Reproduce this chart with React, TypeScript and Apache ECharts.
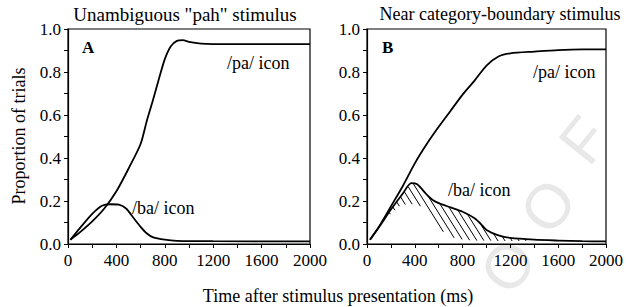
import React, { useEffect, useRef } from "react";
import * as echarts from "echarts";

// Panel A: unambiguous "pah" stimulus
const A_PA_X = [20, 100, 200, 300, 400, 500, 600, 650, 700, 750, 800, 850, 900, 950, 1000, 1100, 1200, 1600, 2000];
const A_PA_Y = [0.02, 0.055, 0.105, 0.165, 0.245, 0.35, 0.465, 0.57, 0.665, 0.765, 0.86, 0.92, 0.945, 0.948, 0.94, 0.932, 0.93, 0.93, 0.93];
const A_BA_X = [20, 100, 200, 280, 350, 420, 480, 550, 600, 650, 700, 800, 900, 1200, 2000];
const A_BA_Y = [0.02, 0.075, 0.14, 0.178, 0.185, 0.183, 0.165, 0.115, 0.08, 0.05, 0.032, 0.02, 0.015, 0.013, 0.012];

// Panel B: near category-boundary stimulus
const B_PA_X = [25, 100, 200, 300, 400, 500, 600, 700, 800, 900, 1000, 1100, 1200, 1400, 1600, 1800, 2000];
const B_PA_Y = [0.02, 0.08, 0.175, 0.27, 0.375, 0.465, 0.545, 0.62, 0.695, 0.76, 0.83, 0.872, 0.887, 0.895, 0.902, 0.905, 0.905];
const B_BA_X = [25, 100, 200, 300, 370, 420, 500, 550, 600, 700, 800, 900, 950, 1000, 1100, 1200, 1400, 1600, 1800, 2000];
const B_BA_Y = [0.02, 0.078, 0.16, 0.235, 0.283, 0.278, 0.23, 0.205, 0.19, 0.17, 0.15, 0.12, 0.095, 0.065, 0.04, 0.028, 0.02, 0.016, 0.013, 0.012];

const X_TICKS = [0, 400, 800, 1200, 1600, 2000];
const Y_TICKS = [0, 0.2, 0.4, 0.6, 0.8, 1.0];

const TITLES = ['Unambiguous "pah" stimulus', "Near category-boundary stimulus"];
const PANEL_LETTERS = ["A", "B"];
const CURVE_LABELS = ["/pa/ icon", "/ba/ icon"];
const Y_NAME = "Proportion of trials";
const X_NAME = "Time after stimulus presentation (ms)";
const WATERMARK = ["O", "O", "F"];

const FONT = "Liberation Serif";

function zip(xs: number[], ys: number[]) {
  return xs.map((x, i) => [x, ys[i]]);
}

function interp(xs: number[], ys: number[], x: number) {
  if (x <= xs[0]) return ys[0];
  for (let i = 1; i < xs.length; i++) {
    if (x <= xs[i]) {
      const t = (x - xs[i - 1]) / (xs[i] - xs[i - 1]);
      return ys[i - 1] + t * (ys[i] - ys[i - 1]);
    }
  }
  return ys[ys.length - 1];
}

export default function App() {
  const ref = useRef<HTMLDivElement>(null);
  useEffect(() => {
    if (!ref.current) return;
    const chart = echarts.init(ref.current, undefined, { renderer: "svg" });
    const grids = [
      { left: 68, top: 29, width: 242, height: 215 },
      { left: 367, top: 29, width: 242, height: 215 },
    ];
    const mkX = (i: number) => ({
      type: "value",
      gridIndex: i,
      min: X_TICKS[0],
      max: X_TICKS[X_TICKS.length - 1],
      interval: X_TICKS[1] - X_TICKS[0],
      axisLine: { show: true, lineStyle: { color: "#000", width: 1.2 } },
      axisTick: { show: true, length: 4, lineStyle: { color: "#000" } },
      minorTick: { show: true, splitNumber: 2, length: 4, lineStyle: { color: "#000" } },
      splitLine: { show: false },
      axisLabel: {
        color: "#000",
        fontFamily: FONT,
        fontSize: 17,
        margin: 8,
        formatter: (v: number) => String(v),
      },
    });
    const mkY = (i: number) => ({
      type: "value",
      gridIndex: i,
      min: Y_TICKS[0],
      max: Y_TICKS[Y_TICKS.length - 1],
      interval: 0.2,
      axisLine: { show: true, lineStyle: { color: "#000", width: 1.2 } },
      axisTick: { show: true, length: 4, lineStyle: { color: "#000" } },
      minorTick: { show: true, splitNumber: 2, length: 4, lineStyle: { color: "#000" } },
      splitLine: { show: false },
      axisLabel: {
        color: "#000",
        fontFamily: FONT,
        fontSize: 17,
        margin: 7,
        formatter: (v: number) => v.toFixed(1),
      },
    });
    const lineSeries = (data: number[][], i: number) => ({
      type: "line",
      xAxisIndex: i,
      yAxisIndex: i,
      data,
      symbol: "none",
      smooth: 0.25,
      lineStyle: { color: "#000", width: 1.8 },
      z: 3,
    });

    const hatch = {
      type: "custom",
      xAxisIndex: 1,
      yAxisIndex: 1,
      data: [[0, 0]],
      z: 2,
      renderItem: (params: any, api: any) => {
        const p0 = api.coord([X_TICKS[0], Y_TICKS[0]]);
        const p1 = api.coord([X_TICKS[X_TICKS.length - 1], Y_TICKS[Y_TICKS.length - 1]]);
        const toMs = (px: number) => ((px - p0[0]) / (p1[0] - p0[0])) * X_TICKS[X_TICKS.length - 1];
        const toVal = (py: number) => (py - p0[1]) / (p1[1] - p0[1]);
        const top = p1[1];
        const bottom = p0[1];
        const k = 1.6;
        const children: any[] = [];
        const inside = (px: number, py: number) => {
          const ms = toMs(px);
          if (ms < B_BA_X[0] || ms > B_BA_X[B_BA_X.length - 1]) return false;
          const v = toVal(py);
          return v > interp(A_BA_X, A_BA_Y, ms) && v < interp(B_BA_X, B_BA_Y, ms);
        };
        for (let c = p0[0] - (bottom - top) / k; c < p1[0]; c += 7) {
          let start: number[] | null = null;
          let last: number[] | null = null;
          for (let py = top; py <= bottom + 0.5; py += 0.4) {
            const px = c + (py - top) / k;
            const ins = py <= bottom && inside(px, py);
            if (ins) {
              if (!start) start = [px, py];
              last = [px, py];
            } else if (start && last) {
              if (Math.hypot(last[0] - start[0], last[1] - start[1]) > 1.5) {
                children.push({
                  type: "line",
                  shape: { x1: start[0], y1: start[1], x2: last[0], y2: last[1] },
                  style: { stroke: "#000", lineWidth: 1 },
                });
              }
              start = null;
              last = null;
            }
          }
        }
        return { type: "group", children };
      },
    };

    const txt = (text: string, x: number, y: number, extra: any = {}) => ({
      type: "text",
      x,
      y,
      style: {
        text,
        fill: "#000",
        font: `18px "${FONT}"`,
        textAlign: "left",
        textVerticalAlign: "middle",
        ...extra,
      },
      z: 10,
    });
    const wm = (ch: string, x: number, y: number) => ({
      type: "text",
      x,
      y,
      rotation: 0.89,
      style: {
        text: ch,
        fill: "#e8e8e8",
        font: `62px "Liberation Sans"`,
        textAlign: "center",
        textVerticalAlign: "middle",
      },
      z: -10,
    });

    chart.setOption({
      animation: false,
      grid: grids.map((g) => ({ ...g, show: true, borderColor: "#000", borderWidth: 1.2, backgroundColor: "transparent" })),
      xAxis: [mkX(0), mkX(1)],
      yAxis: [mkY(0), mkY(1)],
      series: [
        lineSeries(zip(A_PA_X, A_PA_Y), 0),
        lineSeries(zip(A_BA_X, A_BA_Y), 0),
        lineSeries(zip(B_PA_X, B_PA_Y), 1),
        lineSeries(zip(B_BA_X, B_BA_Y), 1),
        hatch,
      ],
      graphic: [
        wm(WATERMARK[0], 508, 266),
        wm(WATERMARK[1], 548, 206),
        wm(WATERMARK[2], 584, 140),
        txt(TITLES[0], 185, 14, { textAlign: "center", font: `19px "${FONT}"` }),
        txt(TITLES[1], 500, 14, { textAlign: "center" }),
        txt(PANEL_LETTERS[0], 82, 47, { font: `bold 17px "${FONT}"` }),
        txt(PANEL_LETTERS[1], 382, 47, { font: `bold 17px "${FONT}"` }),
        txt(CURVE_LABELS[0], 227, 63),
        txt(CURVE_LABELS[1], 132, 208),
        txt(CURVE_LABELS[0], 533, 72),
        txt(CURVE_LABELS[1], 448, 190),
        txt(X_NAME, 338, 296, { textAlign: "center" }),
        {
          type: "text",
          x: 19,
          y: 136,
          rotation: Math.PI / 2,
          style: {
            text: Y_NAME,
            fill: "#000",
            font: `18px "${FONT}"`,
            textAlign: "center",
            textVerticalAlign: "middle",
          },
          z: 10,
        },
      ],
    });
    return () => chart.dispose();
  }, []);
  return <div ref={ref} style={{ width: 626, height: 307, position: "absolute", left: 0, top: 0, background: "#fff" }} />;
}
